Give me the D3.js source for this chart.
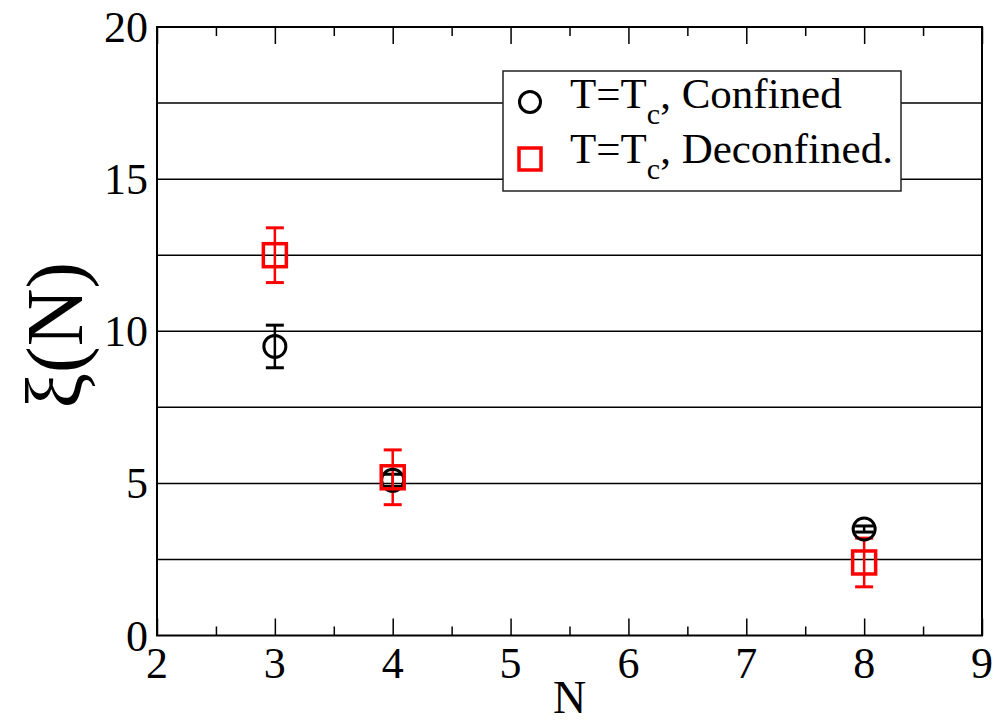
<!DOCTYPE html>
<html>
<head>
<meta charset="utf-8">
<script src="https://cdn.jsdelivr.net/npm/d3@7"></script>
<style>
  html, body { margin: 0; padding: 0; background: #fff; }
  svg { display: block; }
</style>
</head>
<body>
<div id="chart"></div>
<script>
// ---- data ----
const nValues = [3, 4, 8];
const confinedValues = [9.5, 5.1, 3.5];
const confinedErrors = [0.7, 0.2, 0.1];
const deconfinedValues = [12.5, 5.2, 2.4];
const deconfinedErrors = [0.9, 0.9, 0.8];
const xTickValues = [2, 3, 4, 5, 6, 7, 8, 9];
const xMinorTickValues = [2.5, 3.5, 4.5, 5.5, 6.5, 7.5, 8.5];
const yTickValues = [0, 5, 10, 15, 20];
const yGridValues = [2.5, 5, 7.5, 10, 12.5, 15, 17.5];
const legendLabels = ["Confined", "Deconfined."];

// ---- layout ----
const W = 997, H = 724;
const pL = 157, pR = 982, pT = 27, pB = 635.5;
const FONT = "'Liberation Serif', 'DejaVu Serif', 'Times New Roman', serif";

const svg = d3.select("#chart").append("svg").attr("width", W).attr("height", H)
  .style("font-family", FONT).attr("font-family", FONT);

const x = d3.scaleLinear().domain([2, 9]).range([pL, pR]);
const y = d3.scaleLinear().domain([0, 20]).range([pB, pT]);

// gridlines
svg.append("g").selectAll("line").data(yGridValues).join("line")
  .attr("x1", pL).attr("x2", pR)
  .attr("y1", d => y(d)).attr("y2", d => y(d))
  .attr("stroke", "#000").attr("stroke-width", 1.5);

// x ticks (inward)
const gb = svg.append("g").attr("transform", `translate(0,${pB})`)
  .call(d3.axisBottom(x).tickValues(xTickValues).tickSize(-17).tickFormat(""));
const gbm = svg.append("g").attr("transform", `translate(0,${pB})`)
  .call(d3.axisBottom(x).tickValues(xMinorTickValues).tickSize(-9).tickFormat(""));
const gt = svg.append("g").attr("transform", `translate(0,${pT})`)
  .call(d3.axisTop(x).tickValues(xTickValues).tickSize(-17).tickFormat(""));
const gtm = svg.append("g").attr("transform", `translate(0,${pT})`)
  .call(d3.axisTop(x).tickValues(xMinorTickValues).tickSize(-9).tickFormat(""));
[gb, gbm, gt, gtm].forEach(g => {
  g.select(".domain").remove();
  g.selectAll(".tick line").attr("stroke", "#000").attr("stroke-width", 1.5);
});

// x tick labels
svg.append("g").selectAll("text").data(xTickValues).join("text")
  .attr("x", d => x(d)).attr("y", 678)
  .attr("text-anchor", "middle")
  .style("font-family", FONT)
  .style("font-size", "44px")
  .text(d => d);

// y tick labels
svg.append("g").selectAll("text").data(yTickValues).join("text")
  .attr("x", 148).attr("y", d => y(d) + 15)
  .attr("text-anchor", "end")
  .style("font-family", FONT)
  .style("font-size", "44px")
  .text(d => d);

// frame
svg.append("rect")
  .attr("x", pL).attr("y", pT)
  .attr("width", pR - pL).attr("height", pB - pT)
  .attr("fill", "none").attr("stroke", "#000").attr("stroke-width", 2);

// axis titles
svg.append("text")
  .attr("x", (pL + pR) / 2).attr("y", 713)
  .attr("text-anchor", "middle")
  .style("font-family", FONT)
  .style("font-size", "46px")
  .text("N");

svg.append("text")
  .attr("transform", `translate(82,${(pT + pB) / 2 + 4}) rotate(-90)`)
  .attr("text-anchor", "middle")
  .style("font-family", FONT)
  .style("font-size", "80px")
  .text("ξ(N)");

// error bars helper
function errorBars(vals, errs, color, width) {
  const g = svg.append("g").attr("stroke", color).attr("stroke-width", width);
  const data = nValues.map((n, i) => ({ n, v: vals[i], e: errs[i] }));
  g.selectAll("line.v").data(data).join("line").attr("class", "v")
    .attr("x1", d => x(d.n)).attr("x2", d => x(d.n))
    .attr("y1", d => y(d.v + d.e)).attr("y2", d => y(d.v - d.e));
  g.selectAll("line.t").data(data).join("line").attr("class", "t")
    .attr("x1", d => x(d.n) - 9).attr("x2", d => x(d.n) + 9)
    .attr("y1", d => y(d.v + d.e)).attr("y2", d => y(d.v + d.e))
    .attr("stroke-width", 3);
  g.selectAll("line.b").data(data).join("line").attr("class", "b")
    .attr("x1", d => x(d.n) - 9).attr("x2", d => x(d.n) + 9)
    .attr("y1", d => y(d.v - d.e)).attr("y2", d => y(d.v - d.e))
    .attr("stroke-width", 3);
}

errorBars(confinedValues, confinedErrors, "#000", 2.5);
errorBars(deconfinedValues, deconfinedErrors, "#ff0000", 2.5);

// confined circles
svg.append("g").selectAll("circle").data(nValues).join("circle")
  .attr("cx", d => x(d)).attr("cy", (d, i) => y(confinedValues[i]))
  .attr("r", 11)
  .attr("fill", "none").attr("stroke", "#000").attr("stroke-width", 3);

// deconfined squares
svg.append("g").selectAll("rect").data(nValues).join("rect")
  .attr("x", d => x(d) - 11.5).attr("y", (d, i) => y(deconfinedValues[i]) - 11.5)
  .attr("width", 23).attr("height", 23)
  .attr("fill", "none").attr("stroke", "#ff0000").attr("stroke-width", 3.5);

// legend
const lg = svg.append("g");
lg.append("rect")
  .attr("x", 503).attr("y", 71).attr("width", 398).attr("height", 120)
  .attr("fill", "#fff").attr("stroke", "#222").attr("stroke-width", 1.5);
lg.append("circle").attr("cx", 530).attr("cy", 102).attr("r", 10.5)
  .attr("fill", "none").attr("stroke", "#000").attr("stroke-width", 3);
lg.append("rect").attr("x", 519).attr("y", 148).attr("width", 22).attr("height", 22)
  .attr("fill", "none").attr("stroke", "#ff0000").attr("stroke-width", 3.5);

legendLabels.forEach((lab, i) => {
  const t = lg.append("text")
    .attr("x", 570).attr("y", 108 + i * 55)
    .style("font-family", FONT)
    .style("font-size", "43px");
  t.append("tspan").text("T=T");
  t.append("tspan").attr("dy", 16).style("font-size", "30px").text("c");
  t.append("tspan").attr("dy", -16).text(", " + lab);
});
</script>
</body>
</html>
